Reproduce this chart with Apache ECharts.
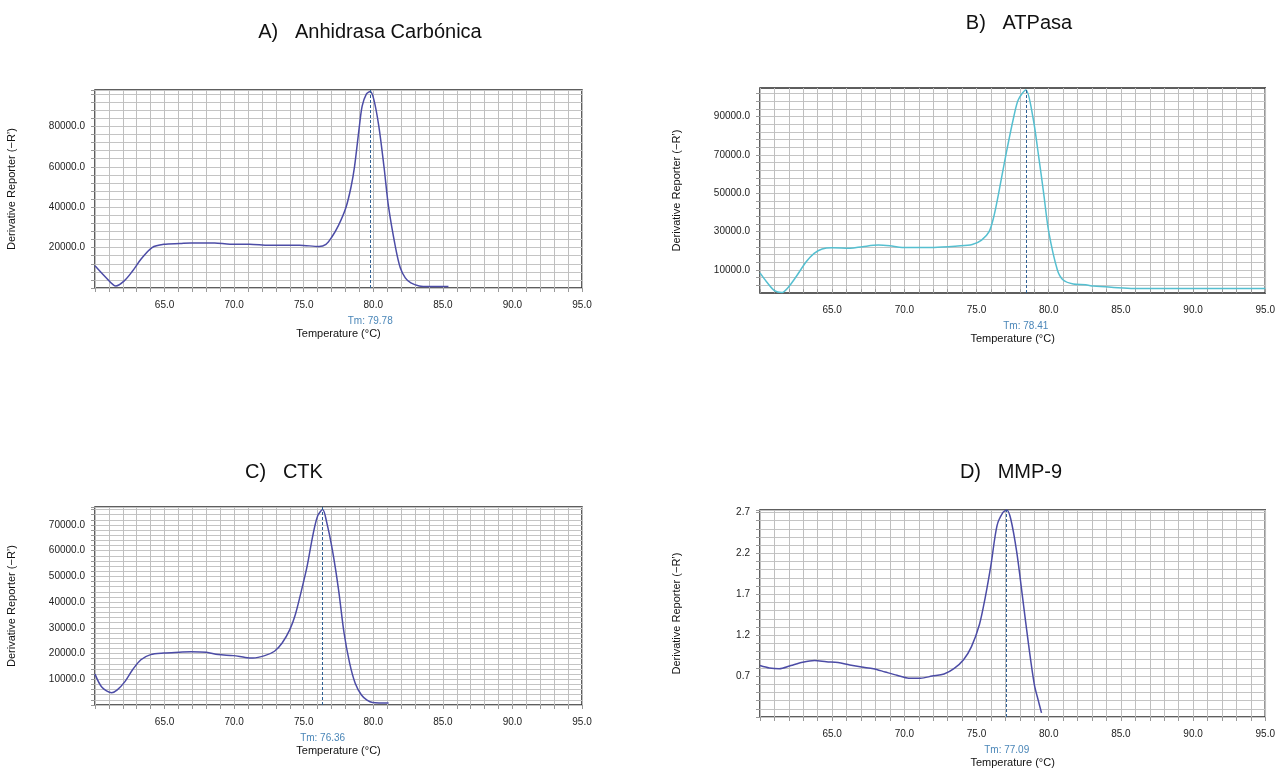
<!DOCTYPE html>
<html><head><meta charset="utf-8">
<script src="https://cdn.jsdelivr.net/npm/echarts@6/dist/echarts.min.js"></script>
<style>html,body{margin:0;padding:0;background:#fff}#c{width:1278px;height:771px}</style>
</head><body><div id="c"></div><script>
// ---- titles ----
const panelTitles = ['A)   Anhidrasa Carbónica', 'B)   ATPasa', 'C)   CTK', 'D)   MMP-9'];
const tmValues = [79.78, 78.41, 76.36, 77.09];
const xLabelValues = [65, 70, 75, 80, 85, 90, 95];

// ---- Panel A ----
const tempA = [60, 60.8, 61.5, 62.1, 62.7, 63.3, 64.1, 64.95, 66.1, 66.9, 68.6, 69.7, 71.1, 72.5, 74.7, 76.1, 76.6, 77.0, 77.5, 78.04, 78.4, 78.65, 79.0, 79.2, 79.5, 79.78, 80.05, 80.4, 80.77, 81.1, 81.6, 81.94, 82.3, 82.7, 83.3, 84.0, 85.4];
const derivA = [11000, 5100, 1000, 3500, 8400, 14200, 20000, 21600, 22000, 22300, 22300, 21700, 21700, 21200, 21200, 20500, 21600, 25000, 31000, 40000, 50000, 60000, 80000, 90000, 96000, 97200, 93000, 80000, 60000, 40000, 20000, 10000, 5000, 2500, 1000, 700, 700];
const yLabelsA = [20000, 40000, 60000, 80000];

// ---- Panel B ----
const tempB = [60, 60.45, 61.0, 61.5, 61.95, 62.5, 63.2, 63.75, 64.3, 65.0, 66.25, 67.1, 68.2, 69.0, 69.85, 72.05, 73.7, 74.7, 75.35, 75.87, 76.2, 76.53, 77.03, 77.58, 77.9, 78.41, 78.9, 79.29, 79.65, 80.0, 80.6, 81.0, 81.7, 82.55, 83.1, 84.5, 85.9, 95];
const derivB = [8500, 3900, -800, -1800, 900, 6500, 14300, 18700, 21000, 21600, 21400, 22200, 23000, 22600, 21800, 21800, 22500, 23300, 25600, 30000, 38000, 50000, 70000, 90000, 99000, 104000, 90000, 70000, 50000, 30000, 10000, 4800, 2700, 2300, 1600, 900, 400, 400];
const yLabelsB = [10000, 30000, 50000, 70000, 90000];

// ---- Panel C ----
const tempC = [60, 60.5, 61.2, 61.6, 62.15, 62.7, 63.3, 64.0, 64.95, 66.05, 66.9, 68.0, 68.85, 69.95, 70.8, 71.35, 72.2, 72.9, 73.45, 74.0, 74.4, 74.8, 75.25, 75.65, 76.0, 76.36, 76.65, 77.05, 77.5, 77.9, 78.3, 78.7, 79.15, 79.55, 79.95, 81.1];
const derivC = [12000, 6900, 4800, 5900, 9100, 13700, 17600, 19600, 20200, 20500, 20700, 20500, 19600, 19200, 18500, 18300, 19200, 20900, 24100, 29300, 35200, 43700, 54100, 65800, 73500, 76000, 71100, 60600, 45000, 28000, 16300, 8500, 3900, 1900, 1000, 800];
const yLabelsC = [10000, 20000, 30000, 40000, 50000, 60000, 70000];

// ---- Panel D ----
const tempD = [60, 60.65, 61.33, 62.14, 62.96, 63.78, 64.6, 65.4, 66.22, 67.04, 67.86, 68.67, 69.49, 70.3, 71.12, 71.93, 72.75, 73.43, 74.1, 74.65, 75.2, 75.6, 76.0, 76.42, 76.83, 77.09, 77.37, 77.78, 78.19, 78.6, 79.0, 79.28, 79.5];
const derivD = [0.83, 0.80, 0.79, 0.83, 0.87, 0.89, 0.875, 0.865, 0.835, 0.81, 0.79, 0.75, 0.71, 0.675, 0.675, 0.70, 0.725, 0.79, 0.90, 1.06, 1.33, 1.66, 2.06, 2.54, 2.70, 2.73, 2.62, 2.22, 1.66, 1.09, 0.60, 0.40, 0.25];
const yLabelsD = [0.7, 1.2, 1.7, 2.2, 2.7];

const temps = [tempA, tempB, tempC, tempD];
const derivs = [derivA, derivB, derivC, derivD];
const yLabelSets = [yLabelsA, yLabelsB, yLabelsC, yLabelsD];

// axis ranges / grid steps
const yAxisCfg = [
  {min: 0, max: 98000, step: 4000, dec: 1},
  {min: -2000, max: 105000, step: 4000, start: 2000, dec: 1},
  {min: 0, max: 77000, step: 2000, dec: 1},
  {min: 0.2, max: 2.73, step: 0.1, dec: 1}
];
const lineColors = ['#4c4ca6', '#55bfd0', '#4c4ca6', '#4c4ca6'];

const grids = [
  {left: 95, top: 90, width: 487, height: 198},
  {left: 760, top: 88, width: 507, height: 205},
  {left: 95, top: 507, width: 487, height: 198},
  {left: 760, top: 510, width: 507, height: 207}
];
const titlePos = [
  {x: 365, y: 27}, {x: 1014, y: 18}, {x: 279, y: 467}, {x: 1006, y: 467}
];

const labelFont = {fontFamily: 'Liberation Sans', fontSize: 10, color: '#222'};
const option = {
  animation: false,
  backgroundColor: '#fff',
  title: panelTitles.map((t, i) => ({
    text: t, left: titlePos[i].x, top: titlePos[i].y, textAlign: 'center', textVerticalAlign: 'middle',
    textStyle: {fontFamily: 'Liberation Sans', fontSize: 20, fontWeight: 'normal', color: '#111'}
  })),
  grid: grids.map(g => Object.assign({show: true, borderColor: '#2a2a2a', borderWidth: 1.5, backgroundColor: '#fff', containLabel: false}, g)),
  xAxis: grids.map((g, i) => ({
    type: 'value', gridIndex: i, min: 60, max: 95, interval: 1,
    name: 'Temperature (°C)', nameLocation: 'middle', nameGap: 40,
    nameTextStyle: {fontFamily: 'Liberation Sans', fontSize: 11, color: '#111'},
    axisLine: {show: false},
    axisTick: {show: true, length: 4, lineStyle: {color: '#999'}},
    splitLine: {show: true, lineStyle: {color: '#bfbfbf', width: 1}},
    axisLabel: Object.assign({margin: 12, showMinLabel: true, showMaxLabel: true,
      formatter: v => xLabelValues.includes(Math.round(v * 100) / 100) ? v.toFixed(1) : ''}, labelFont)
  })),
  yAxis: yAxisCfg.map((c, i) => {
    const labs = yLabelSets[i];
    const ax = {
      type: 'value', gridIndex: i, min: c.min, max: c.max,
      name: 'Derivative Reporter (−R\u2019)', nameLocation: 'middle', nameGap: 78, nameRotate: 90,
      nameTextStyle: {fontFamily: 'Liberation Sans', fontSize: 11, color: '#111'},
      axisLine: {show: false},
      axisTick: {show: true, length: 4, lineStyle: {color: '#999'}},
      splitLine: {show: true, lineStyle: {color: '#c4c4c4', width: 1}},
      axisLabel: Object.assign({margin: 10,
        formatter: v => labs.some(l => Math.abs(l - v) < 1e-6 * Math.max(1, Math.abs(l))) ? v.toFixed(c.dec) : ''}, labelFont)
    };
    if (c.start !== undefined) {
      const ticks = [];
      for (let v = c.start; v <= c.max; v += c.step) ticks.push(v);
      ax.axisTick.customValues = ticks;
      ax.axisLabel.customValues = labs;
    } else {
      ax.interval = c.step;
    }
    return ax;
  }),
  series: temps.map((t, i) => ({
    type: 'line', xAxisIndex: i, yAxisIndex: i,
    data: t.map((x, k) => [x, derivs[i][k]]),
    showSymbol: false, smooth: 0.3,
    lineStyle: {color: lineColors[i], width: 1.5},
    emphasis: {disabled: true},
    markLine: {
      silent: true, symbol: 'none', animation: false,
      lineStyle: {color: '#2d5f94', type: [3, 2], width: 1},
      label: {show: true, position: 'start', distance: 28, formatter: 'Tm: ' + tmValues[i].toFixed(2),
        fontFamily: 'Liberation Sans', fontSize: 10, color: '#4a86b8'},
      data: [{xAxis: tmValues[i]}]
    }
  }))
};
const chart = echarts.init(document.getElementById('c'), null, {renderer: 'canvas'});
chart.setOption(option);
</script></body></html>
